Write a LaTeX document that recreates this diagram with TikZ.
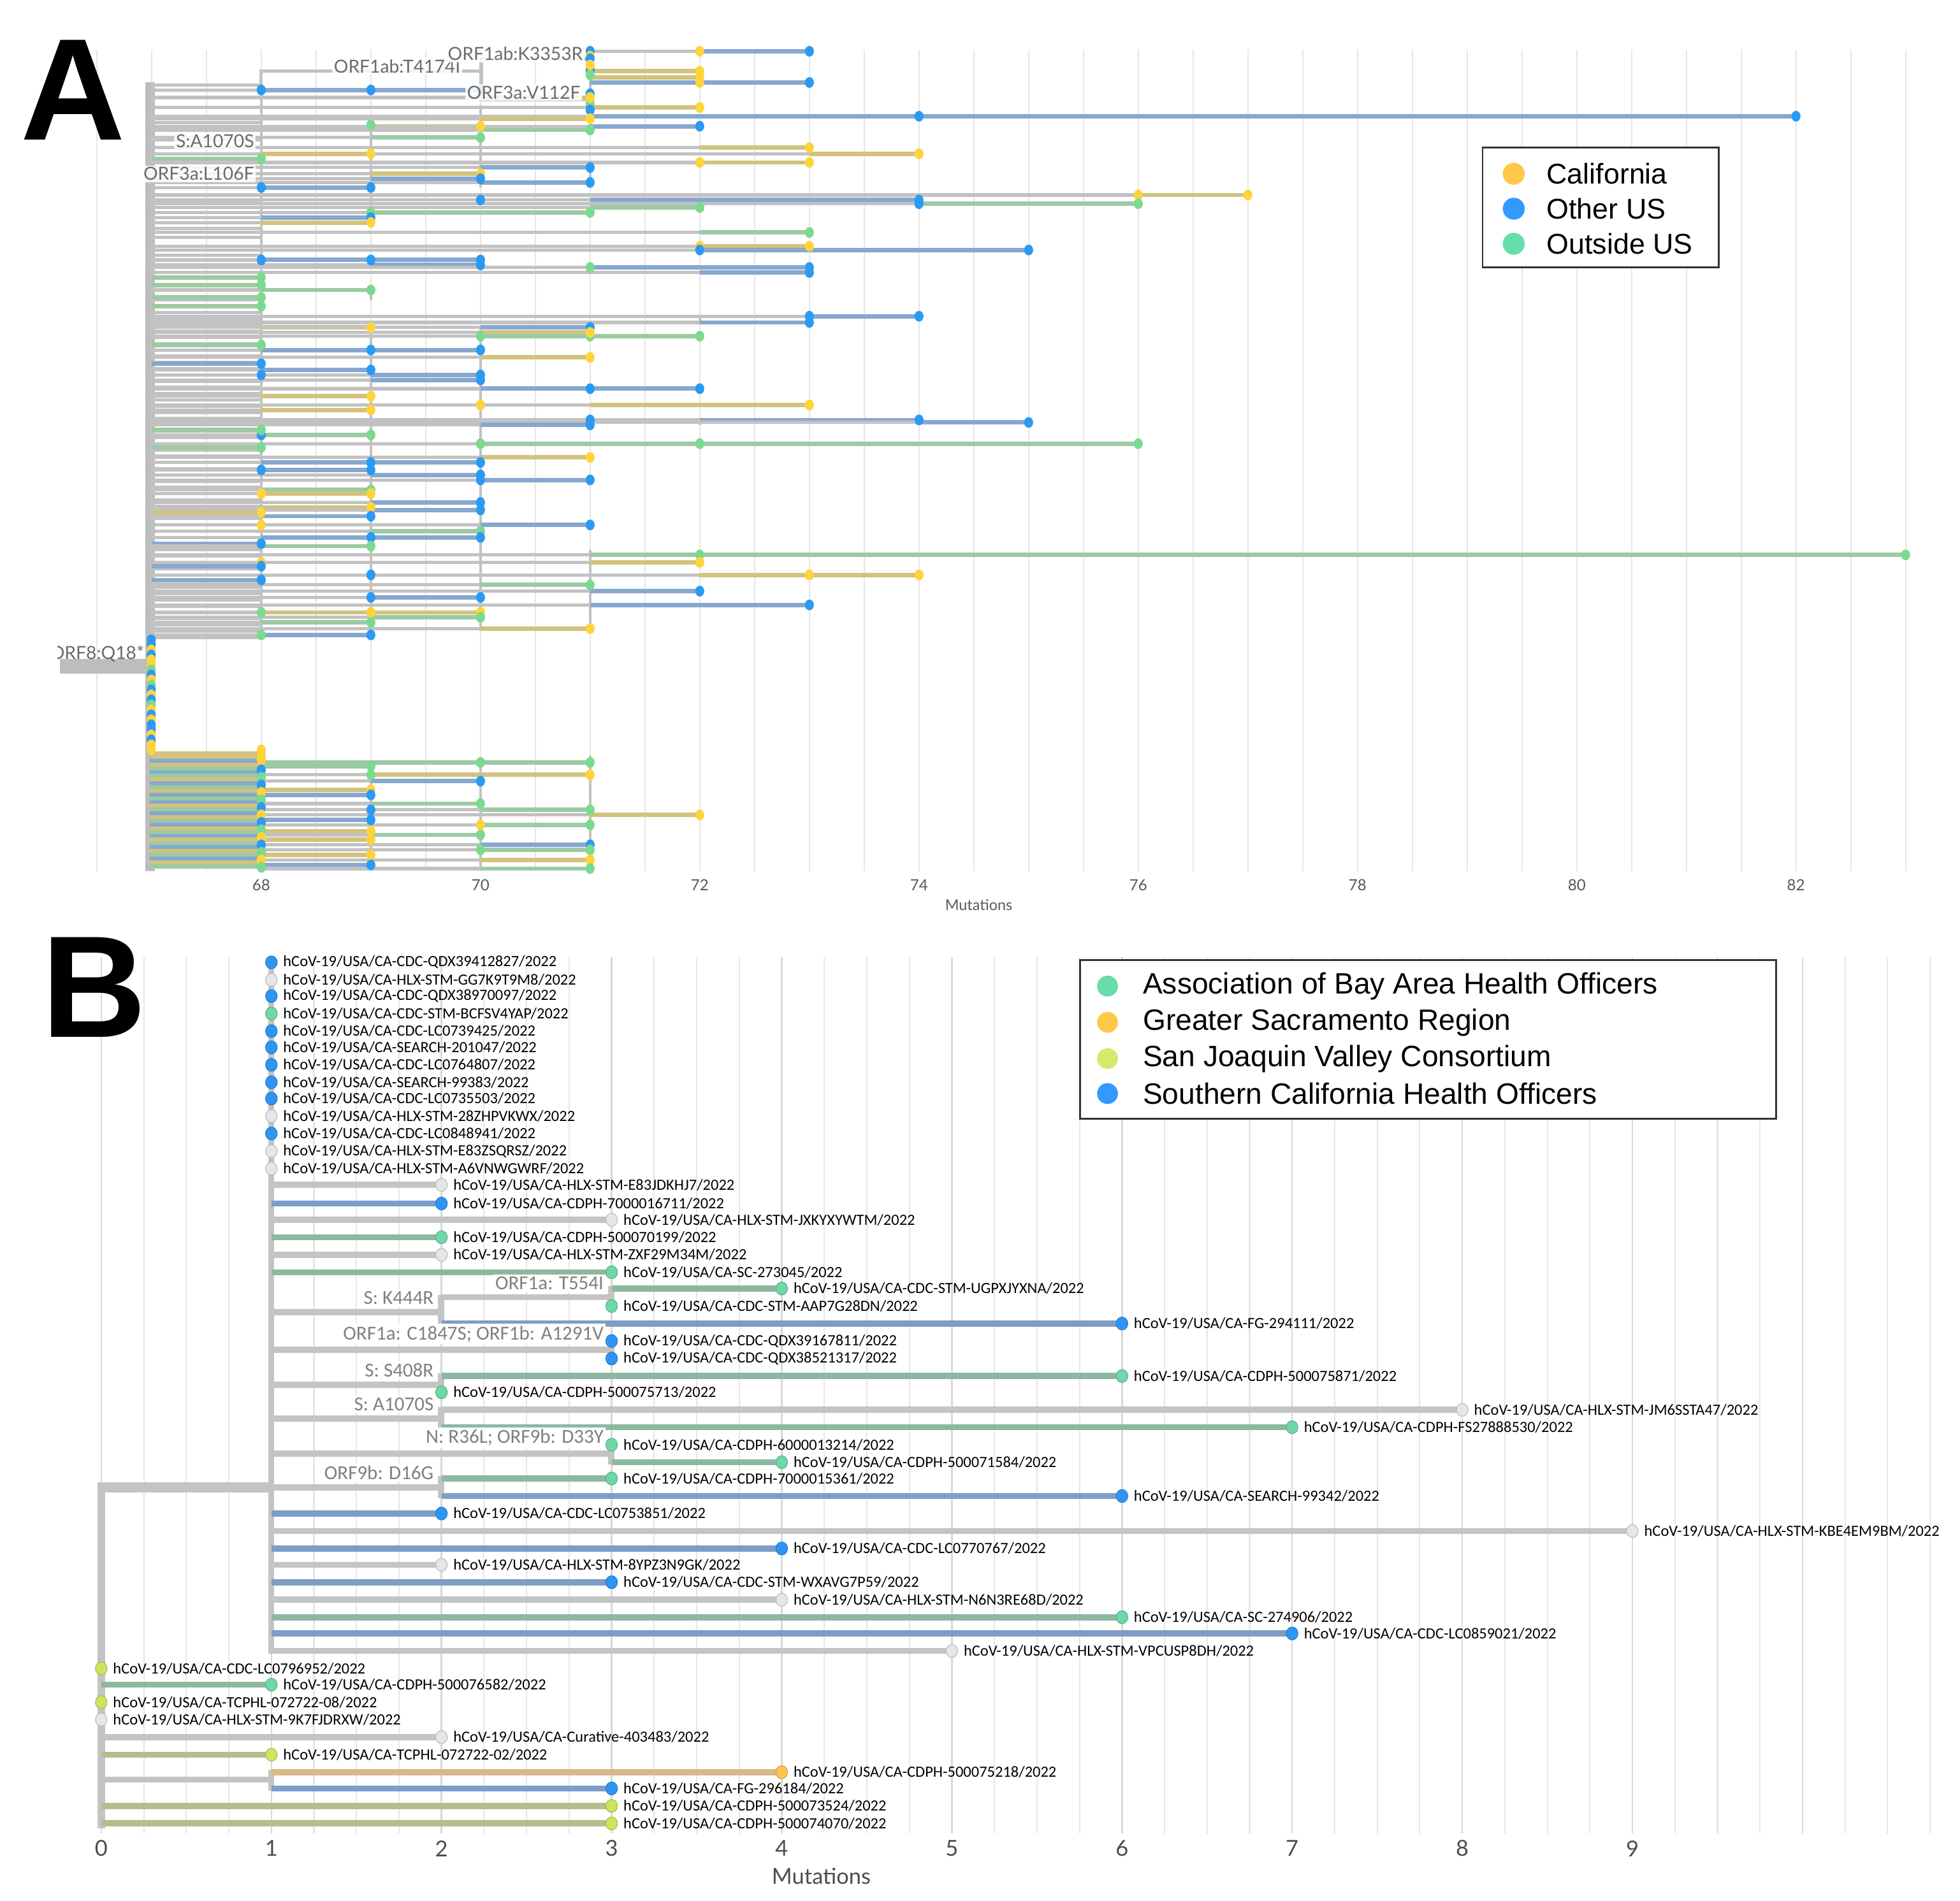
\documentclass[tikz,border=0pt]{standalone}
\usepackage{fontspec}
\usetikzlibrary{shapes.geometric}
\setmainfont{Liberation Sans}
\newfontfamily\carl{Carlito}
\newfontfamily\lato{Lato}
\definecolor{gridc}{HTML}{E6E6E6}
\definecolor{gridd}{HTML}{D8D8D8}
\definecolor{glc}{HTML}{C2C2C2}
\definecolor{trk}{HTML}{BDBDBD}
% panel A
\definecolor{lY}{HTML}{D2C27E}
\definecolor{lB}{HTML}{86A8CF}
\definecolor{lG}{HTML}{9CCAA2}
\definecolor{dY}{HTML}{FFD43B}
\definecolor{dB}{HTML}{2B9AF3}
\definecolor{dG}{HTML}{7BDA8F}
% panel B
\definecolor{gl}{HTML}{C4C4C4}
\definecolor{bl}{HTML}{7E9DC6}
\definecolor{gnl}{HTML}{8DB8A0}
\definecolor{lml}{HTML}{B4BE8C}
\definecolor{orl}{HTML}{D8B98C}
\definecolor{bd}{HTML}{2F95F5}
\definecolor{gd}{HTML}{6ED8A6}
\definecolor{ld}{HTML}{CFE35F}
\definecolor{wd}{HTML}{E4E6E8}
\definecolor{od}{HTML}{FFC44D}
\definecolor{legY}{HTML}{FFC84A}
\definecolor{legB}{HTML}{3399FF}
\definecolor{legG}{HTML}{66DDAA}
\definecolor{legL}{HTML}{D4EA6A}
\begin{document}
\begin{tikzpicture}[x=0.2mm,y=-0.2mm,
  gridline/.style={draw=gridc,line width=0.6pt},
  agray/.style={draw=glc,line width=1.5pt},
  acol/.style={line width=2pt},
  adot/.style={ellipse,inner sep=0pt,minimum width=4.1pt,minimum height=4.9pt,draw=none},
  alab/.style={font=\lato\fontsize{8.2}{9}\selectfont,text=black!58,fill=white,fill opacity=0.85,text opacity=1,inner sep=0.8pt},
  bline/.style={line width=2.8pt},
  bint/.style={draw=gl,line width=2.8pt},
  bdot/.style={ellipse,inner sep=0pt,minimum width=5.3pt,minimum height=5.9pt,line width=0.3pt},
  blab/.style={anchor=west,inner sep=0pt,font=\carl\fontsize{7.1}{8}\selectfont},
  mlab/.style={font=\carl\fontsize{9}{10}\selectfont,text=black!50,fill=white,inner sep=1pt},
  tickA/.style={font=\lato\fontsize{7}{8}\selectfont,text=black!65},
  tickB/.style={font=\lato\fontsize{10}{11}\selectfont,text=black!70},
  legbox/.style={draw=black!80,line width=0.8pt,fill=white},
  legtxt/.style={anchor=west,inner sep=0pt,font=\fontsize{13}{14}\selectfont},
  legtxtB/.style={anchor=west,inner sep=0pt,font=\fontsize{13.4}{14}\selectfont},
  big/.style={anchor=base west,inner sep=0pt,font=\fontsize{66}{66}\selectfont\bfseries}]
\useasboundingbox[fill=white] (0,0) rectangle (1568,1521);

%================ PANEL A =================
\def\Arows{41/72/73/B, 47/71/71/B, 52/71/71/Y, 57/71/72/Y, 62/71/72/Y, 66/71/73/B, 72/68/70/B, 78/70/71/Y, 86/71/72/Y, 93/71/82/B, 95/70/71/Y, 101/69/70/Y, 101/71/72/B, 104/70/71/G, 110/69/70/G, 118/72/73/Y, 123/73/74/Y, 123/68/69/Y, 127/67/68/G, 130/72/73/Y, 134/70/71/B, 139/69/70/Y, 143/69/70/B, 146/70/71/B, 150/68/69/B, 156/76/77/Y, 160/71/74/B, 163/74/76/G, 166/71/72/G, 170/69/71/G, 174/68/69/B, 178/68/69/Y, 186/72/73/G, 197/72/73/Y, 200/72/75/B, 208/68/70/B, 212/69/70/B, 214/71/73/B, 218/72/73/B, 222/67/68/G, 228/67/68/G, 232/68/69/G, 238/67/68/G, 245/67/68/G, 253/73/74/B, 258/72/73/B, 262/68/69/Y, 262/70/71/B, 266/70/71/Y, 269/70/72/G, 276/67/68/G, 280/68/70/B, 286/70/71/Y, 291/67/68/B, 296/68/69/B, 300/69/70/B, 304/69/70/B, 311/70/72/B, 317/68/69/Y, 324/71/73/Y, 328/68/69/Y, 336/72/74/B, 338/74/75/B, 340/70/71/B, 344/67/68/G, 348/68/69/G, 355/70/76/G, 358/67/68/G, 366/70/71/Y, 370/68/70/B, 376/68/69/B, 380/69/70/B, 384/70/71/B, 392/68/69/G, 395/68/69/Y, 402/69/70/B, 406/68/69/Y, 408/69/70/B, 410/67/68/Y, 413/68/69/B, 420/70/71/B, 425/69/70/G, 430/68/70/B, 435/67/68/B, 437/68/69/G, 444/71/83/G, 450/71/72/Y, 453/67/68/B, 460/72/74/Y, 464/67/68/B, 468/70/71/G, 473/71/72/B, 478/69/70/B, 484/71/73/B, 490/68/70/Y, 494/69/70/G, 498/68/69/G, 503/70/71/Y, 508/68/69/B}
\def\Adots{41/72/Y, 41/71/B, 45/71/Y, 56/71/B, 60/71/G, 66/72/Y, 72/68/B, 72/69/B, 75/71/B, 82/71/Y, 84/71/G, 88/71/B, 93/74/B, 100/69/G, 130/72/Y, 150/68/B, 156/76/Y, 160/70/B, 163/74/B, 170/69/G, 197/72/Y, 200/72/B, 208/68/B, 208/69/B, 214/71/G, 253/73/B, 269/70/G, 269/71/G, 280/69/B, 300/68/B, 311/71/B, 324/70/Y, 336/71/B, 348/68/B, 355/72/G, 355/70/G, 370/69/B, 376/68/B, 384/70/B, 395/68/Y, 420/68/Y, 430/69/B, 444/72/G, 450/68/Y, 460/73/Y, 460/69/B, 478/69/B, 490/69/Y, 490/68/G, 508/68/G}
\def\Alow{605/67/68/Y, 610/68/71/G, 613/68/69/G, 620/69/71/Y, 625/69/70/B, 632/68/69/Y, 636/68/69/B, 643/69/70/G, 648/70/71/G, 652/71/72/Y, 656/68/69/B, 660/70/71/G, 665/68/69/Y, 668/69/70/G, 672/68/69/Y, 676/70/71/B, 680/70/71/G, 684/68/69/Y, 688/70/71/Y, 692/68/69/B, 695/70/71/G}
\def\Alowdots{610/70/G, 620/69/G, 648/69/B, 660/70/Y, 680/70/G}

% grid
\foreach \i in {0,...,34} \draw[gridline] ({209+87.7*(66.5+0.5*\i-68)},40) -- ({209+87.7*(66.5+0.5*\i-68)},697);

% trunk
\draw[draw=trk,line width=4.5pt] (120,66) -- (120,697);
% ORF8 branch
\draw[draw=trk,line width=6.8pt] (48,533) -- (118,533);

% gray fillers trunk -> 68
\foreach \y in {68,98,112,127,162,183,190,204,222,232,240} \draw[agray] (120,\y) -- (209,\y);
\foreach \y in {245,250,...,510} \draw[agray] (120,\y) -- (209,\y);
% top internal branches (ORF1ab:T4174I, ORF1ab:K3353R, ORF3a:V112F)
\draw[agray] (209,68) -- (209,57) -- (385,57) -- (385,47) -- (472,47);
\draw[agray] (385,57) -- (385,80) -- (472,80);
% coloured fillers lower block
\foreach \y/\c in {603/Y,606/G,609/B,612/Y,615/G,618/B,621/G,624/Y,627/B,630/G,633/Y,636/B,639/G,642/B,645/Y,648/G,651/B,654/Y,657/G,660/B,663/Y,666/G,669/B,672/Y,675/G,678/B,681/Y,684/G,687/B,690/Y,693/G}
  \draw[acol,draw=l\c] (120,\y) -- (209,\y);

% vertical connectors
\foreach \m/\ya/\yb in {68/64/510, 69/98/180, 69/228/240, 69/260/510, 70/84/150, 70/208/215, 70/262/505, 71/40/105, 71/130/150, 71/214/218, 71/440/505, 72/197/200, 72/253/258, 72/336/340, 68/600/695, 69/610/692, 70/610/695, 71/605/695}
  \draw[agray,line width=1pt] ({209+87.7*(\m-68)},\ya) -- ({209+87.7*(\m-68)},\yb);

% rows
\foreach \y/\ms/\mt/\c in \Arows {
  \pgfmathsetmacro\gs{(\y<68)?472:120}
  \draw[agray] (\gs,\y) -- ({209+87.7*(\ms-68)},\y);
  \draw[acol,draw=l\c] ({209+87.7*(\ms-68)},\y) -- ({209+87.7*(\mt-68)},\y);
}
\foreach \y/\ms/\mt/\c in \Alow {
  \draw[agray] (209,\y) -- ({209+87.7*(\ms-68)},\y);
  \draw[acol,draw=l\c] ({209+87.7*(\ms-68)},\y) -- ({209+87.7*(\mt-68)},\y);
}
% dots
\foreach \y/\m/\c in \Adots \node[adot,fill=d\c] (ax\y m\m) at ({209+87.7*(\m-68)},\y) {};
\foreach \y/\ms/\mt/\c in \Arows \node[adot,fill=d\c] (ar\y m\mt) at ({209+87.7*(\mt-68)},\y) {};
\foreach \y/\ms/\mt/\c in \Alow \node[adot,fill=d\c] (al\y m\mt) at ({209+87.7*(\mt-68)},\y) {};
\foreach \y/\m/\c in \Alowdots \node[adot,fill=d\c] (alx\y m\m) at ({209+87.7*(\m-68)},\y) {};
% dot stacks
\foreach \y/\c in {512/B,516/B,520/Y,524/B,528/Y,532/Y,536/G,540/B,544/Y,548/G,552/B,556/Y,560/B,564/G,568/Y,572/B,576/Y,580/B,584/B,588/Y,592/B,596/Y,600/Y}
  \node[adot,fill=d\c] (as\y) at (121,\y) {};
\foreach \y/\c in {600/Y,604/Y,608/Y,616/B,622/G,628/B,634/Y,640/G,646/B,652/Y,658/B,664/G,670/Y,676/B,682/G,688/Y,694/G}
  \node[adot,fill=d\c] (at\y) at (209,\y) {};

% mutation labels A
\node[alab,anchor=east] (mT) at (370,53) {ORF1ab:T4174I};
\node[alab,anchor=east] (mK) at (468,43) {ORF1ab:K3353R};
\node[alab,anchor=east] (mV) at (466,74) {ORF3a:V112F};
\node[alab,anchor=east] (mS) at (205,113) {S:A1070S};
\node[alab,anchor=east] (mL) at (205,139) {ORF3a:L106F};
\begin{scope}
  \clip (46,505) rectangle (130,560);
  \node[alab,anchor=east,fill=none] (mO) at (117,523) {ORF8:Q18*};
\end{scope}

% axis A
\foreach \m in {68,70,...,82} \node[tickA] (ta\m) at ({209+87.7*(\m-68)},708) {\m};
\node[tickA,font=\lato\fontsize{6.8}{8}\selectfont] (axA) at (783,724) {Mutations};

% legend A
\draw[legbox] (1186,118) rectangle (1375,214);
\node[circle,fill=legY,inner sep=0pt,minimum size=10pt] (lA1) at (1211,139) {};
\node[circle,fill=legB,inner sep=0pt,minimum size=10pt] (lA2) at (1211,167) {};
\node[circle,fill=legG,inner sep=0pt,minimum size=10pt] (lA3) at (1211,195) {};
\node[legtxt] (tA1) at (1237,139) {California};
\node[legtxt] (tA2) at (1237,167) {Other US};
\node[legtxt] (tA3) at (1237,195) {Outside US};

\node[big] (bigA) at (16,112) {A};

%================ PANEL B =================
\foreach \i in {0,...,43} {
  \pgfmathsetmacro\gx{81+34.025*\i}
  \draw[gridline] (\gx,766) -- (\gx,1467);
}
\foreach \i in {0,...,10} \draw[draw=gridd,line width=0.7pt] ({81+136.1*\i},766) -- ({81+136.1*\i},1467);

\def\Bleaves{770/1/1/gl/bd/CDC-QDX39412827, 784/1/1/gl/wd/HLX-STM-GG7K9T9M8, 797/1/1/gl/bd/CDC-QDX38970097, 811/1/1/gl/gd/CDC-STM-BCFSV4YAP, 825/1/1/gl/bd/CDC-LC0739425, 838/1/1/gl/bd/SEARCH-201047, 852/1/1/gl/bd/CDC-LC0764807, 866/1/1/gl/bd/SEARCH-99383, 879/1/1/gl/bd/CDC-LC0735503, 893/1/1/gl/wd/HLX-STM-28ZHPVKWX, 907/1/1/gl/bd/CDC-LC0848941, 921/1/1/gl/wd/HLX-STM-E83ZSQRSZ, 935/1/1/gl/wd/HLX-STM-A6VNWGWRF, 948/1/2/gl/wd/HLX-STM-E83JDKHJ7, 963/1/2/bl/bd/CDPH-7000016711, 976/1/3/gl/wd/HLX-STM-JXKYXYWTM, 990/1/2/gnl/gd/CDPH-500070199, 1004/1/2/gl/wd/HLX-STM-ZXF29M34M, 1018/1/3/gnl/gd/SC-273045, 1031/3/4/gnl/gd/CDC-STM-UGPXJYXNA, 1045/3/3/gl/gd/CDC-STM-AAP7G28DN, 1059/2/6/bl/bd/FG-294111, 1073/3/3/gl/bd/CDC-QDX39167811, 1087/3/3/gl/bd/CDC-QDX38521317, 1101/2/6/gnl/gd/CDPH-500075871, 1114/2/2/gl/gd/CDPH-500075713, 1128/2/8/gl/wd/HLX-STM-JM6SSTA47, 1142/2/7/gnl/gd/CDPH-FS27888530, 1156/3/3/gl/gd/CDPH-6000013214, 1170/3/4/gnl/gd/CDPH-500071584, 1183/2/3/gnl/gd/CDPH-7000015361, 1197/2/6/bl/bd/SEARCH-99342, 1211/1/2/bl/bd/CDC-LC0753851, 1225/1/9/gl/wd/HLX-STM-KBE4EM9BM, 1239/1/4/bl/bd/CDC-LC0770767, 1252/1/2/gl/wd/HLX-STM-8YPZ3N9GK, 1266/1/3/bl/bd/CDC-STM-WXAVG7P59, 1280/1/4/gl/wd/HLX-STM-N6N3RE68D, 1294/1/6/gnl/gd/SC-274906, 1307/1/7/bl/bd/CDC-LC0859021, 1321/1/5/gl/wd/HLX-STM-VPCUSP8DH, 1335/0/0/gl/ld/CDC-LC0796952, 1348/0/1/gnl/gd/CDPH-500076582, 1362/0/0/gl/ld/TCPHL-072722-08, 1376/0/0/gl/wd/HLX-STM-9K7FJDRXW, 1390/0/2/gl/wd/Curative-403483, 1404/0/1/lml/ld/TCPHL-072722-02, 1418/1/4/orl/od/CDPH-500075218, 1431/1/3/bl/bd/FG-296184, 1445/0/3/lml/ld/CDPH-500073524, 1459/0/3/lml/ld/CDPH-500074070}

% internal branches
\draw[draw=gl,line width=3.6pt] (81,1186) -- (81,1463);
\draw[draw=gl,line width=4.6pt] (79,1190) -- (219,1190);
\draw[bint] (217,766) -- (217,1323);
\draw[bint] (217,1050) -- (353,1050);
\draw[bint] (353,1036) -- (353,1061);
\draw[bint] (353,1038) -- (489,1038);
\draw[bint] (489,1029) -- (489,1047);
\draw[bint] (217,1080) -- (489,1080);
\draw[bint] (489,1071) -- (489,1089);
\draw[bint] (217,1108) -- (353,1108);
\draw[bint] (353,1099) -- (353,1116);
\draw[bint] (217,1135) -- (353,1135);
\draw[bint] (353,1126) -- (353,1144);
\draw[bint] (217,1163) -- (489,1163);
\draw[bint] (489,1154) -- (489,1172);
\draw[bint] (217,1190) -- (353,1190);
\draw[bint] (353,1181) -- (353,1199);
\draw[bint] (81,1424) -- (217,1424);
\draw[bint] (217,1416) -- (217,1433);

\foreach \y/\ms/\mt/\lc/\dc/\lab in \Bleaves
  \draw[bline,draw=\lc] ({81+136.1*\ms},\y) -- ({81+136.1*\mt},\y);
\foreach \y/\ms/\mt/\lc/\dc/\lab in \Bleaves {
  \node[bdot,fill=\dc,draw=\dc!80!black] (bd\y) at ({81+136.1*\mt},\y) {};
  \node[blab] (bt\y) at ([xshift=2.4pt]bd\y.east) {hCoV-19/USA/CA-\lab/2022};
}

% mutation labels B
\node[mlab,anchor=south east] (k444) at (349,1046) {S: K444R};
\node[mlab,anchor=south east] (t554) at (485,1034) {ORF1a: T554I};
\node[mlab,anchor=south east] (c1847) at (485,1076) {ORF1a: C1847S; ORF1b: A1291V};
\node[mlab,anchor=south east] (s408) at (349,1104) {S: S408R};
\node[mlab,anchor=south east] (a1070) at (349,1131) {S: A1070S};
\node[mlab,anchor=south east] (r36) at (485,1159) {N: R36L; ORF9b: D33Y};
\node[mlab,anchor=south east] (d16) at (349,1186) {ORF9b: D16G};

% axis B
\foreach \m in {0,...,9} \node[tickB] (tb\m) at ({81+136.1*\m},1479) {\m};
\node[tickB] (axB) at (657,1501) {Mutations};

% legend B
\draw[legbox] (864,768) rectangle (1421,895);
\node[circle,fill=legG,inner sep=0pt,minimum size=9.5pt] (lB1) at (886,789) {};
\node[circle,fill=legY,inner sep=0pt,minimum size=9.5pt] (lB2) at (886,818) {};
\node[circle,fill=legL,inner sep=0pt,minimum size=9.5pt] (lB3) at (886,847) {};
\node[circle,fill=legB,inner sep=0pt,minimum size=9.5pt] (lB4) at (886,875) {};
\node[legtxtB] (tB1) at (914,789) {Association of Bay Area Health Officers};
\node[legtxtB] (tB2) at (914,818) {Greater Sacramento Region};
\node[legtxtB] (tB3) at (914,847) {San Joaquin Valley Consortium};
\node[legtxtB] (tB4) at (914,875) {Southern California Health Officers};

\node[big] (bigB) at (33,830) {B};
\end{tikzpicture}
\end{document}
